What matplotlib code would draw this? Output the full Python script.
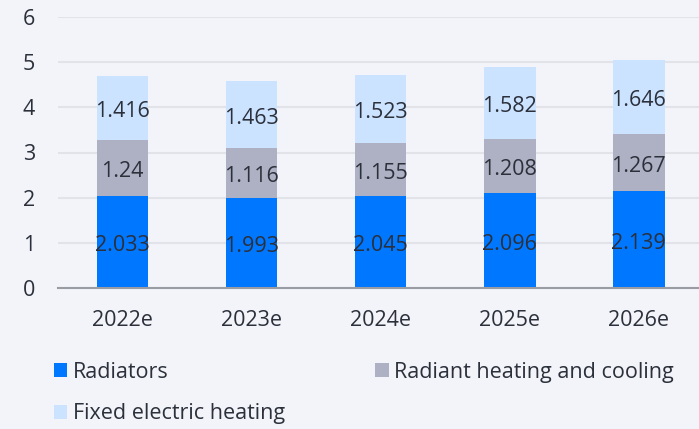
import matplotlib
matplotlib.use("Agg")
import matplotlib.pyplot as plt
import numpy as np

categories = ["2022e", "2023e", "2024e", "2025e", "2026e"]
radiators = [2.033, 1.993, 2.045, 2.096, 2.139]
radiant = [1.24, 1.116, 1.155, 1.208, 1.267]
fixed_electric = [1.416, 1.463, 1.523, 1.582, 1.646]
series_names = ["Radiators", "Radiant heating and cooling", "Fixed electric heating"]
yticks = [0, 1, 2, 3, 4, 5, 6]

colors = ["#0077ff", "#adb1c3", "#cce3ff"]
bg = "#f3f4f9"
txt = "#2b303b"
fs = 15.5

plt.rcParams['font.family'] = ['Open Sans', 'DejaVu Sans']

fig = plt.figure(figsize=(6.99, 4.29), dpi=100, facecolor=bg)
ax = fig.add_axes([58/699, 1-288/429, 1-58/699, (288-17)/429])
ax.set_facecolor(bg)

x = np.arange(len(categories))
w = 0.4
bottom = np.zeros(len(categories))
handles = []
for vals, c, name in zip([radiators, radiant, fixed_electric], colors, series_names):
    b = ax.bar(x, vals, w, bottom=bottom, color=c, label=name, zorder=2)
    handles.append(b)
    for xi, v, bt in zip(x, vals, bottom):
        ax.annotate(f"{v:g}", (xi, bt + v/2), xytext=(0, -2.5), textcoords="offset points",
                    ha="center", va="center", fontsize=fs, color=txt, zorder=3)
    bottom = bottom + np.array(vals)

ax.set_xlim(-0.5, 4 + (699-638.7)/129.3)
ax.set_ylim(0, 6)
ax.set_yticks(yticks)
ax.set_xticks(x)
ax.set_xticklabels(categories)
ax.tick_params(axis="both", length=0, labelsize=fs, colors=txt)
ax.tick_params(axis="y", pad=21)
ax.tick_params(axis="x", pad=16)
for lab in ax.get_yticklabels():
    lab.set_horizontalalignment("center")
ax.grid(axis="y", color="#e2e3e8", linewidth=1.5, zorder=0)
for s in ["top", "right", "left"]:
    ax.spines[s].set_visible(False)
ax.spines["bottom"].set_color("#9a9ca3")
ax.spines["bottom"].set_linewidth(1.5)
ax.spines["bottom"].set_zorder(4)

order = [0, 2, 1]
leg = fig.legend([handles[i] for i in order], [series_names[i] for i in order],
                 ncol=2, loc="upper left", bbox_to_anchor=(54/699, 1-362/429),
                 frameon=False, fontsize=fs, handlelength=0.62, handleheight=0.62,
                 handletextpad=0.25, columnspacing=4.2, labelspacing=0.95,
                 labelcolor=txt, borderaxespad=0, borderpad=0)

fig.savefig("out.png", dpi=100, facecolor=bg)
